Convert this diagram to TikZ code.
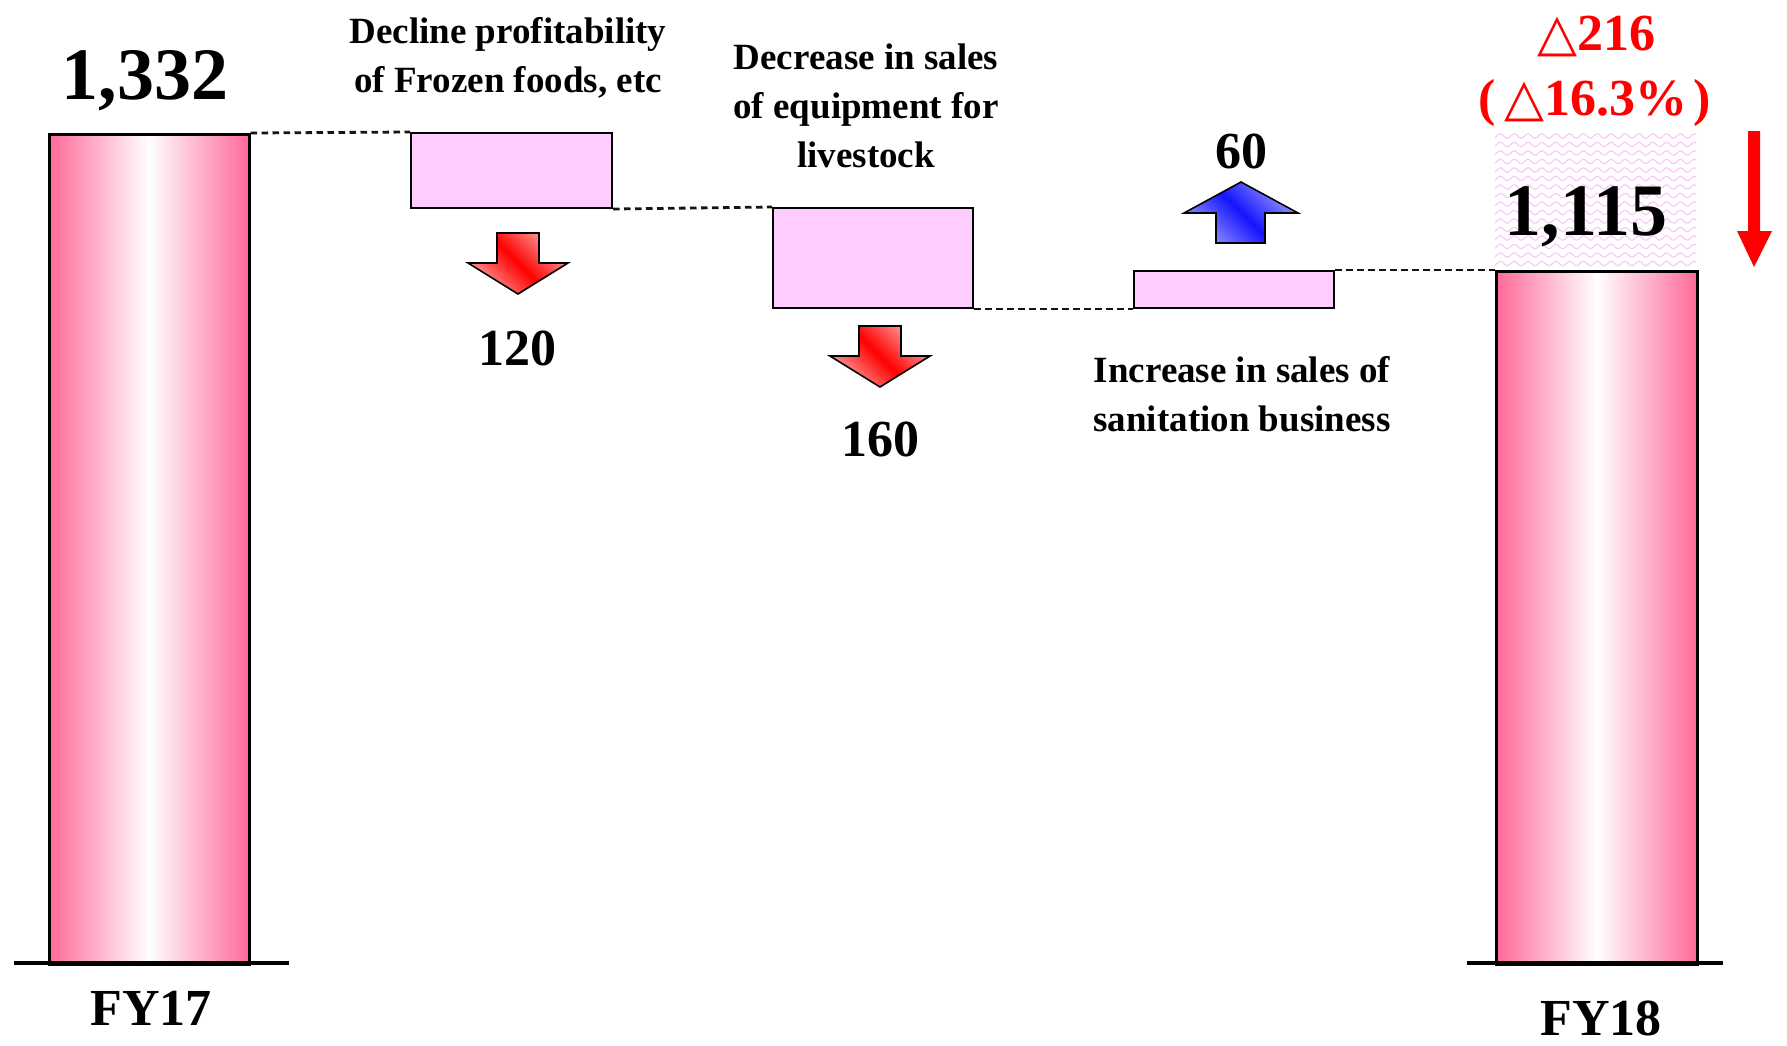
\documentclass[tikz,border=0pt]{standalone}
\usepackage{fontspec}
\setmainfont{Liberation Serif}
\newfontfamily\symfont{DejaVu Sans}
\definecolor{barpink}{RGB}{255,105,152}
\definecolor{boxpink}{RGB}{255,204,255}
\definecolor{wavepink}{RGB}{250,200,250}
\definecolor{arrred}{RGB}{255,0,0}
\definecolor{arrredl}{RGB}{255,160,160}
\definecolor{arrblue}{RGB}{20,20,255}
\definecolor{arrbluel}{RGB}{150,150,255}
\definecolor{guidegray}{RGB}{20,20,20}
\tikzset{
  bar/.style={draw=black, line width=2.5pt, inner sep=0pt, anchor=north west,
    left color=barpink, right color=barpink, middle color=white},
  chgbox/.style={draw=black, line width=2pt, fill=boxpink, inner sep=0pt, anchor=north west},
  guide/.style={draw=guidegray, dash pattern=on 6.5pt off 4.5pt, line width=2.8pt},
  ground/.style={line width=4pt},
  bigval/.style={font=\fontsize{74}{80}\selectfont\bfseries, anchor=base, inner sep=0pt},
  midval/.style={font=\fontsize{52}{60}\selectfont\bfseries, anchor=base, inner sep=0pt},
  note/.style={font=\fontsize{37}{49}\selectfont\bfseries, align=center, inner sep=0pt},
  downarr/.style={draw=black, line width=1.6pt, top color=arrredl, bottom color=arrredl, middle color=arrred, shading angle=-45},
  uparr/.style={draw=black, line width=1.6pt, top color=arrbluel, bottom color=arrbluel, middle color=arrblue, shading angle=-45},
}
\begin{document}
\begin{tikzpicture}[x=1pt,y=-1pt]
\useasboundingbox (0,0) rectangle (1787,1045);
% bars and boxes
\node[bar, minimum width=200pt, minimum height=830pt] (bar1) at (48,133) {};
\node[chgbox, minimum width=201pt, minimum height=75pt] (box1) at (410,132) {};
\node[chgbox, minimum width=200pt, minimum height=100pt] (box2) at (772,207) {};
\node[chgbox, minimum width=200pt, minimum height=37pt] (box3) at (1133,270) {};
\node[bar, minimum width=201pt, minimum height=693pt] (bar2) at (1495,270) {};
% wavy hatch area
\begin{scope}
  \clip (1495,133) rectangle (1696,268);
  \foreach \yy in {136,144.5,...,272}
    \draw[wavepink, line width=1.2pt] plot[domain=0:210, samples=160] ({1490+\x}, {\yy + 2.2*sin(26*\x)});
\end{scope}
% guide lines
\draw[guide] (bar1.north east) -- (box1.north west);
\draw[guide] (box1.south east) -- (box2.north west);
\draw[guide] (box2.south east) -- (box3.south west);
\draw[guide] (box3.north east) -- (bar2.north west);
% ground lines
\draw[ground] (14,963) -- (289,963);
\draw[ground] (1467,963) -- (1723,963);
% block arrows
\draw[downarr] (497,233) -- (539,233) -- (539,263) -- (568,263) -- (518,294) -- (468,263) -- (497,263) -- cycle;
\draw[downarr] (859,326) -- (901,326) -- (901,356) -- (930,356) -- (880,387) -- (830,356) -- (859,356) -- cycle;
\draw[uparr] (1216,243) -- (1265,243) -- (1265,213) -- (1298,213) -- (1241,182) -- (1184,213) -- (1216,213) -- cycle;
% right red arrow
\fill[arrred] (1748,131) -- (1760,131) -- (1760,231) -- (1772,231) -- (1754,267) -- (1737,231) -- (1748,231) -- cycle;
% labels
\node[bigval] (v1332) at (145,99) {1,332};
\node[bigval] (v1115) at (1586,235) {1,115};
\node[midval] (v120) at (517,365) {120};
\node[midval] (v160) at (880,456) {160};
\node[midval] (v60) at (1241,168) {60};
\node[midval] (fy17) at (151,1025) {FY17};
\node[midval] (fy18) at (1601,1035) {FY18};
\node[midval, text=arrred] (d216) at (1596,50) {{\symfont △}216};
\node[midval, text=arrred] (dpct) at (1595,115) {(\kern8pt{\symfont △}16.3\%\kern7pt)};
\node[note] (n1) at (508,58) {Decline profitability\\of Frozen foods, etc};
\node[note] (n2) at (866,106) {Decrease in sales\\of equipment for\\livestock};
\node[note] (n3) at (1242,394) {Increase in sales of\\sanitation business};
\end{tikzpicture}
\end{document}
